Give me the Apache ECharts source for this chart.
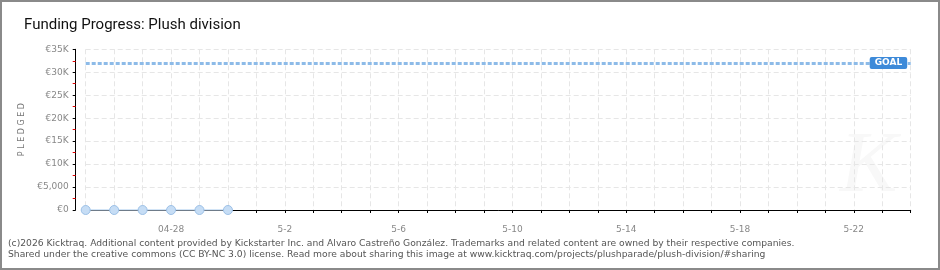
<!DOCTYPE html>
<html>
<head>
<meta charset="utf-8">
<script src="https://cdn.jsdelivr.net/npm/echarts@6/dist/echarts.min.js"></script>
<style>
  html, body { margin: 0; padding: 0; background: #fff; }
  #wrap { position: relative; width: 940px; height: 270px; box-sizing: border-box; border: 2px solid #8a8a8a; }
  #chart { position: absolute; left: -2px; top: -2px; width: 940px; height: 270px; }
</style>
</head>
<body>
<div id="wrap"><div id="chart"></div></div>
<script>
// ---- data ----
const categories = ['04-25','04-26','04-27','04-28','04-29','04-30','5-1','5-2','5-3','5-4','5-5','5-6','5-7','5-8','5-9','5-10','5-11','5-12','5-13','5-14','5-15','5-16','5-17','5-18','5-19','5-20','5-21','5-22','5-23','5-24'];
const pledged = [0, 0, 0, 0, 0, 0];
const goal = 32000;
const yTickValues = [0, 5000, 10000, 15000, 20000, 25000, 30000, 35000];
const yTickLabels = ['€0', '€5,000', '€10K', '€15K', '€20K', '€25K', '€30K', '€35K'];
const titleText = 'Funding Progress: Plush division';
const yAxisName = 'P L E D G E D';
const goalLabel = 'GOAL';
const footer1 = '(c)2026 Kicktraq. Additional content provided by Kickstarter Inc. and Alvaro Castreño González. Trademarks and related content are owned by their respective companies.';
const footer2 = 'Shared under the creative commons (CC BY-NC 3.0) license. Read more about sharing this image at www.kicktraq.com/projects/plushparade/plush-division/#sharing';

const chart = echarts.init(document.getElementById('chart'), null, { renderer: 'canvas' });
const axisFont = 'DejaVu Sans';
chart.setOption({
  animation: false,
  title: {
    text: titleText, left: 19, top: 13,
    textStyle: { fontFamily: 'Roboto', fontWeight: 'normal', fontSize: 15, color: '#111' }
  },
  graphic: [
    { type: 'text', left: 840, top: 125, z: 0, style: { text: 'K', font: 'italic 86px serif', fill: '#f8f8f8' } },
    { type: 'text', left: 8, top: 239, style: { text: footer1, font: '9.2px "DejaVu Sans"', fill: '#555' } },
    { type: 'text', left: 8, top: 250, style: { text: footer2, font: '9.2px "DejaVu Sans"', fill: '#555' } }
  ],
  grid: { left: 85.7, right: 29.3, top: 49.3, bottom: 60, containLabel: false },
  xAxis: {
    type: 'category', data: categories, boundaryGap: false, offset: 10,
    axisLine: { lineStyle: { color: '#000', width: 1 } },
    axisTick: { interval: 0, length: 3, lineStyle: { color: '#000' } },
    axisLabel: { interval: (i) => i % 4 === 3, color: '#888', fontFamily: axisFont, fontSize: 9, margin: 5 },
    splitLine: { show: true, interval: 0, lineStyle: { color: '#e6e6e6', type: [5, 3] } }
  },
  yAxis: {
    type: 'value', min: 0, max: 35000, interval: 5000, offset: 10,
    name: yAxisName, nameLocation: 'middle', nameGap: 50, nameRotate: 90,
    nameTextStyle: { color: '#777', fontFamily: axisFont, fontSize: 8 },
    axisLine: { show: true, lineStyle: { color: '#000', width: 1 } },
    axisTick: { show: true, length: 3, lineStyle: { color: '#000' } },
    minorTick: { show: true, splitNumber: 2, length: 3, lineStyle: { color: '#e00000', width: 1 } },
    axisLabel: { color: '#888', fontFamily: axisFont, fontSize: 9, margin: 7,
      formatter: (v) => { const i = yTickValues.indexOf(v); return i >= 0 ? yTickLabels[i] : ''; } },
    splitLine: { show: true, lineStyle: { color: '#e6e6e6', type: [5, 3] } }
  },
  series: [{
    type: 'line', data: pledged, symbol: 'circle', symbolSize: 9, showSymbol: true,
    lineStyle: { color: '#c4dcf4', width: 1.5 },
    itemStyle: { color: '#c6ddf5', borderColor: '#9cc0e6', borderWidth: 1 },
    z: 3,
    markLine: {
      silent: true, symbol: 'none',
      lineStyle: { color: '#8dbbe8', width: 3, type: [4, 2] },
      label: {
        show: true, position: 'end', formatter: goalLabel, distance: 0, offset: [-41, 0],
        color: '#fff', backgroundColor: '#3d8ad9', borderRadius: 2, padding: [2, 5, 1, 5],
        fontFamily: axisFont, fontSize: 9, fontWeight: 'bold'
      },
      data: [{ yAxis: goal }]
    }
  }]
});
</script>
</body>
</html>
